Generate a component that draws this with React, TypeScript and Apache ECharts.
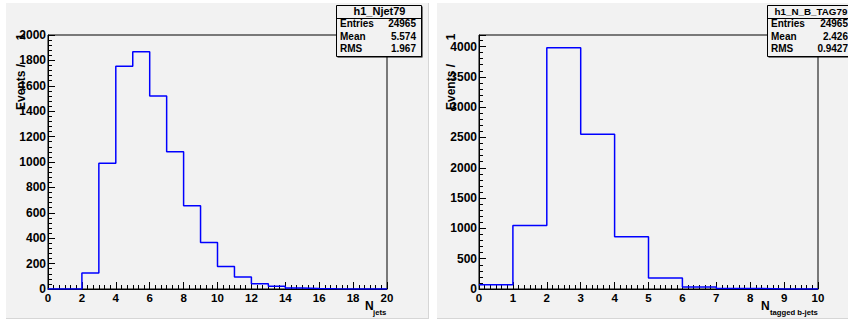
import React, { useEffect, useRef } from "react";
import * as echarts from "echarts";

// ---- data ----
const njetBinEdges = [0, 1, 2, 3, 4, 5, 6, 7, 8, 9, 10, 11, 12, 13, 14, 15, 16, 17, 18, 19, 20];
const njetCounts = [0, 0, 126, 991, 1754, 1869, 1520, 1080, 655, 367, 178, 94, 42, 22, 8, 3, 1, 0, 0, 0];
const btagBinEdges = [0, 1, 2, 3, 4, 5, 6, 7, 8, 9, 10];
const btagCounts = [72, 1047, 3978, 2551, 860, 182, 33, 10, 2, 0];

const statLabels = ["Entries", "Mean", "RMS"];
const njetStatValues = ["24965", "5.574", "1.967"];
const btagStatValues = ["24965", "2.426", "0.9427"];
const njetTitle = "h1_Njet79";
const btagTitle = "h1_N_B_TAG79";

const FONT = '"Liberation Sans", Arial, Helvetica, sans-serif';

function stepPoints(edges: number[], counts: number[]) {
  const pts: number[][] = counts.map((c, i) => [edges[i], c]);
  pts.push([edges[counts.length], counts[counts.length - 1]]);
  return pts;
}

function txt(x: number, y: number, text: string, size: number, align: string, vAlign = "middle", extra: any = {}) {
  return {
    type: "text",
    x,
    y,
    z: 20,
    ...extra,
    style: {
      text,
      fill: "#000",
      fontSize: size,
      fontWeight: "bold",
      fontFamily: FONT,
      align,
      verticalAlign: vAlign,
    },
  };
}

function statBox(x: number, w: number, title: string, titleSize: number, values: string[]) {
  const y = 5;
  const h = 51;
  const els: any[] = [
    { type: "rect", z: 18, shape: { x: x + 1.5, y: y + 1.5, width: w, height: h }, style: { fill: "#000" } },
    { type: "rect", z: 19, shape: { x: x + 0.5, y: y + 0.5, width: w, height: h }, style: { fill: "#f2f2f2", stroke: "#000", lineWidth: 1 } },
    { type: "line", z: 19, shape: { x1: x + 0.5, y1: 18.5, x2: x + w + 0.5, y2: 18.5 }, style: { stroke: "#000", lineWidth: 1 } },
    txt(x + w / 2 + 1, 11, title, titleSize, "center"),
  ];
  const rowsY = [23.5, 36.5, 48.5];
  statLabels.forEach((lab, i) => {
    els.push(txt(x + 4, rowsY[i], lab, 10, "left"));
    els.push(txt(x + w - 5, rowsY[i], values[i], 10, "right"));
  });
  return els;
}

function panel(x: number, w: number) {
  return [
    { type: "rect", z: -10, shape: { x, y: 3, width: w, height: 316 }, style: { fill: "#f2f2f2" } },
    { type: "line", z: -9, shape: { x1: x + w - 0.5, y1: 3, x2: x + w - 0.5, y2: 319 }, style: { stroke: "#d6d6d6", lineWidth: 1 } },
    { type: "line", z: -9, shape: { x1: x, y1: 318.5, x2: x + w, y2: 318.5 }, style: { stroke: "#d6d6d6", lineWidth: 1 } },
  ];
}

function yTitle(x: number) {
  return [
    txt(x, 110, "Events /", 12, "left", "middle", { rotation: Math.PI / 2 }),
    txt(x, 37, "1", 12, "center", "middle", { rotation: Math.PI / 2 }),
  ];
}

const axisLabelStyle = (size: number, margin: number) => ({
  color: "#000",
  fontSize: size,
  fontWeight: "bold",
  fontFamily: FONT,
  margin,
  formatter: (v: number) => String(v),
});

function xAxisCfg(gridIndex: number, max: number, interval: number, minorSplit: number) {
  return {
    type: "value",
    gridIndex,
    min: 0,
    max,
    interval,
    axisLine: { show: true, lineStyle: { color: "#000", width: 1 } },
    axisTick: { show: true, inside: true, length: 7, lineStyle: { color: "#000" } },
    minorTick: { show: true, splitNumber: minorSplit, length: 4, lineStyle: { color: "#000" } },
    splitLine: { show: false },
    minorSplitLine: { show: false },
    axisLabel: axisLabelStyle(11.5, 3),
  };
}

function yAxisCfg(gridIndex: number, max: number, interval: number) {
  return {
    type: "value",
    gridIndex,
    min: 0,
    max,
    interval,
    axisLine: { show: true, lineStyle: { color: "#000", width: 1 } },
    axisTick: { show: true, inside: true, length: 7, lineStyle: { color: "#000" } },
    minorTick: { show: true, splitNumber: 5, length: 4, lineStyle: { color: "#000" } },
    splitLine: { show: false },
    axisLabel: { ...axisLabelStyle(12, 2), showMaxLabel: max % interval === 0 },
  };
}

export default function App() {
  const ref = useRef<HTMLDivElement>(null);
  useEffect(() => {
    if (!ref.current) return;
    const chart = echarts.init(ref.current, null, { renderer: "svg" });
    const option: any = {
      animation: false,
      backgroundColor: "#ffffff",
      grid: [
        { left: 48, top: 35, width: 339, height: 254, show: true, borderColor: "#000", borderWidth: 1, backgroundColor: "transparent" },
        { left: 479, top: 35, width: 339, height: 254, show: true, borderColor: "#000", borderWidth: 1, backgroundColor: "transparent" },
      ],
      xAxis: [xAxisCfg(0, 20, 2, 6), xAxisCfg(1, 10, 1, 6)],
      yAxis: [yAxisCfg(0, 2000, 200), yAxisCfg(1, 4190, 500)],
      series: [
        {
          type: "line",
          xAxisIndex: 0,
          yAxisIndex: 0,
          step: "end",
          showSymbol: false,
          data: stepPoints(njetBinEdges, njetCounts),
          lineStyle: { color: "#0000ff", width: 1.5 },
          itemStyle: { color: "#0000ff" },
          z: 5,
        },
        {
          type: "line",
          xAxisIndex: 1,
          yAxisIndex: 1,
          step: "end",
          showSymbol: false,
          data: stepPoints(btagBinEdges, btagCounts),
          lineStyle: { color: "#0000ff", width: 1.5 },
          itemStyle: { color: "#0000ff" },
          z: 5,
        },
      ],
      graphic: {
        elements: [
          ...panel(6, 423),
          ...panel(437, 420),
          ...yTitle(21),
          ...yTitle(451),
          txt(365, 306, "N", 12, "left"),
          txt(373, 312, "jets", 7.7, "left"),
          txt(761, 306, "N", 12, "left"),
          txt(770, 312, "tagged b-jets", 7.7, "left"),
          ...statBox(336, 85, njetTitle, 11, njetStatValues),
          ...statBox(767, 86, btagTitle, 9.8, btagStatValues),
        ],
      },
    };
    chart.setOption(option);
    return () => chart.dispose();
  }, []);
  return <div ref={ref} style={{ position: "fixed", left: 0, top: 0, width: 848, height: 322 }} />;
}
